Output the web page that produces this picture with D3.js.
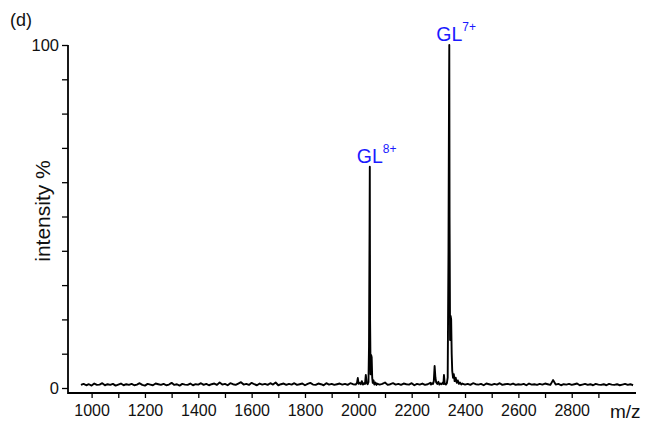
<!DOCTYPE html>
<html><head><meta charset="utf-8">
<script src="https://cdn.jsdelivr.net/npm/d3@7"></script>
<style>
body{margin:0;background:#fff;}
text{font-family:"Liberation Sans",Arial,sans-serif;}
</style></head>
<body><svg id="c" width="646" height="426"></svg>
<script>
// ---- data ----
const baselineStart = 960, baselineStep = 10;
const baselineIntensity = [
0.9,1.2,0.8,1.1,0.7,1.3,0.9,1.0,1.4,0.8,   // 960-1050
1.1,0.9,1.2,0.7,1.0,1.3,0.8,1.1,0.9,1.2,   // 1060-1150
0.8,1.0,1.4,0.9,0.7,1.2,1.0,0.8,1.3,1.1,   // 1160-1250
0.9,1.2,0.8,1.0,1.5,0.9,1.1,0.7,1.2,1.0,   // 1260-1350
0.9,1.3,0.8,1.1,1.0,1.4,0.9,1.2,0.8,1.1,   // 1360-1450
1.3,0.9,1.6,1.0,1.2,0.8,1.4,1.1,0.9,1.3,   // 1460-1550
1.7,1.0,1.2,0.9,1.5,1.1,0.8,1.3,1.0,1.2,   // 1560-1650
0.9,1.4,1.0,1.6,0.8,1.1,1.3,0.9,1.2,1.0,   // 1660-1750
1.4,0.9,1.1,1.3,0.8,1.2,1.5,1.0,0.9,1.3,   // 1760-1850
1.1,0.8,1.4,1.0,1.2,0.9,1.1,1.3,1.0,1.2,   // 1860-1950
0.9,1.4,1.1,1.0,1.3,0.9,1.2,1.0,1.1,1.5,   // 1960-2050
0.9,1.3,1.0,1.2,1.6,0.9,1.1,1.4,1.0,1.2,   // 2060-2150
0.9,1.3,1.1,1.0,1.4,0.8,1.2,1.0,1.3,0.9,   // 2160-2250
1.1,1.5,1.0,1.2,0.9,1.1,1.3,0.8,1.2,1.0,   // 2260-2350
1.4,0.9,1.1,1.3,1.0,1.2,0.9,1.4,1.1,1.0,   // 2360-2450
1.2,0.8,1.3,1.1,0.9,1.2,1.0,1.4,0.9,1.1,   // 2460-2550
1.2,1.0,1.3,0.9,1.1,1.0,1.2,0.8,1.3,1.0,   // 2560-2650
1.1,0.9,1.2,1.0,1.3,1.1,0.9,2.3,1.0,1.2,   // 2660-2750
0.8,1.1,1.0,1.2,0.9,1.1,1.3,0.8,1.0,1.2,   // 2760-2850
0.9,1.1,0.8,1.2,1.0,0.9,1.1,0.8,1.2,1.0,   // 2860-2950
0.9,1.1,0.8,1.0,1.2,0.9,1.1,0.8            // 2960-3030
];
const peak8Mz =  [1990,1995,1998,2001,2005,2009,2013,2017,2021,2025,2028,2031,2035,2038,2040,2042,2043,2044,2046,2048,2050,2052,2054,2057,2060,2064,2068];
const peak8Int = [1.0, 1.5, 2.9, 1.2, 1.5, 1.1, 2.0, 1.0, 1.4, 1.2, 3.8, 1.5, 1.1, 1.8, 12,  45,  64.5,20,  4.0, 9.6, 9.0, 3.0, 1.5, 2.2, 1.0, 1.6, 0.9];
const peak7Mz =  [2272,2276,2280,2283,2286,2289,2292,2296,2300,2304,2308,2312,2316,2319,2321,2324,2328,2332,2335,2338,2340,2341,2342,2344,2346,2348,2350,2352,2355,2358,2361,2365,2369,2373,2377,2381,2386];
const peak7Int = [1.0, 1.4, 1.2, 2.0, 6.4, 3.0, 1.6, 1.2, 1.8, 1.0, 1.3, 1.1, 1.5, 1.2, 3.8, 1.2, 1.0, 1.4, 3.0, 40,  85,  100, 50,  14,  21,  20,  10,  5.0, 3.0, 4.0, 2.0, 3.0, 1.5, 2.2, 1.2, 1.6, 1.0];
const xMajorTicks = [1000,1200,1400,1600,1800,2000,2200,2400,2600,2800];
const xMinorTicks = [1000,1100,1200,1300,1400,1500,1600,1700,1800,1900,2000,2100,2200,2300,2400,2500,2600,2700,2800,2900];
const yTicks = [0,10,20,30,40,50,60,70,80,90,100];
const yLabels = [0,100];
const peakLabels = [{mz:2043, val:64.5, base:"GL", sup:"8+"},{mz:2341, val:100, base:"GL", sup:"7+"}];

// ---- build spectrum ----
let pts = [];
baselineIntensity.forEach((v,i)=>{
  const m = baselineStart + i*baselineStep;
  if ((m>=1990 && m<=2068) || (m>=2272 && m<=2386)) return;
  pts.push([m,v]);
});
peak8Mz.forEach((m,i)=>pts.push([m,peak8Int[i]]));
peak7Mz.forEach((m,i)=>pts.push([m,peak7Int[i]]));
pts.sort((a,b)=>a[0]-b[0]);

const svg = d3.select("#c");
const x = d3.scaleLinear().domain([911.5,3041]).range([68,636]);
const y = d3.scaleLinear().domain([0,100]).range([388,45]);
const axisY0 = 393;

// spectrum
svg.append("path").datum(pts)
  .attr("d", d3.line().x(d=>x(d[0])).y(d=>y(d[1])))
  .attr("fill","none").attr("stroke","#000").attr("stroke-width",1.9).attr("stroke-linejoin","round");

// x axis
const gx = svg.append("g").attr("transform",`translate(0,${axisY0})`)
  .call(d3.axisBottom(x).tickValues(xMinorTicks).tickSize(5).tickSizeOuter(0).tickPadding(7)
    .tickFormat(d=> xMajorTicks.includes(d) ? d : ""));
gx.select(".domain").remove();
gx.selectAll(".tick line").attr("stroke","#000").attr("stroke-width",1.3);
gx.selectAll("text").attr("font-size",16).attr("fill","#111");
svg.append("line").attr("x1",68).attr("x2",636).attr("y1",axisY0).attr("y2",axisY0)
  .attr("stroke","#000").attr("stroke-width",1.8);

// y axis
const gy = svg.append("g").attr("transform","translate(68,0)")
  .call(d3.axisLeft(y).tickValues(yTicks).tickSize(6).tickSizeOuter(0).tickPadding(3)
    .tickFormat(d=> yLabels.includes(d) ? d : ""));
gy.select(".domain").remove();
gy.selectAll(".tick line").attr("stroke","#000").attr("stroke-width",1.3);
gy.selectAll("text").attr("font-size",16.5).attr("fill","#111");
svg.append("line").attr("x1",68).attr("x2",68).attr("y1",y(100)).attr("y2",axisY0+1)
  .attr("stroke","#000").attr("stroke-width",1.8);

// axis titles
svg.append("text").attr("x",610).attr("y",418).attr("font-size",19).attr("fill","#111").text("m/z");
svg.append("text").attr("transform","translate(50,211) rotate(-90)").attr("text-anchor","middle")
  .attr("font-size",21).attr("fill","#111").text("intensity %");
svg.append("text").attr("x",10).attr("y",26).attr("font-size",18).attr("fill","#111").text("(d)");

// peak labels
peakLabels.forEach(p=>{
  const t = svg.append("text").attr("x",x(p.mz)-13).attr("y",y(p.val)-4)
    .attr("fill","#1a1aff").attr("font-size",19.5);
  t.append("tspan").text(p.base);
  t.append("tspan").attr("dy",-10).attr("font-size",12).text(p.sup);
});
</script></body></html>
